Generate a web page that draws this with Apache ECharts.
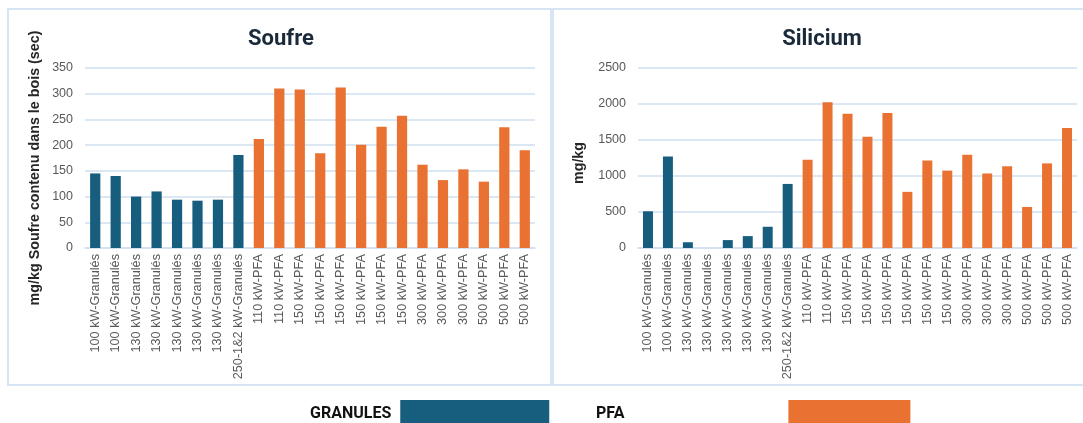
<!DOCTYPE html>
<html>
<head>
<meta charset="utf-8">
<script src="https://cdn.jsdelivr.net/npm/echarts@6/dist/echarts.min.js"></script>
<style>
  html, body { margin: 0; padding: 0; background: #fff; }
  #chart { width: 1083px; height: 423px; }
</style>
</head>
<body>
<div id="chart"></div>
<script>
// categories (same for both charts)
var categories = [
  '100 kW-Granulés', '100 kW-Granulés', '130 kW-Granulés', '130 kW-Granulés',
  '130 kW-Granulés', '130 kW-Granulés', '130 kW-Granulés', '250-1&2 kW-Granulés',
  '110 kW-PFA', '110 kW-PFA', '150 kW-PFA', '150 kW-PFA', '150 kW-PFA',
  '150 kW-PFA', '150 kW-PFA', '150 kW-PFA', '300 kW-PFA', '300 kW-PFA',
  '300 kW-PFA', '500 kW-PFA', '500 kW-PFA', '500 kW-PFA'
];
var nGranules = 8;

// Soufre (mg/kg)
var soufreValues = [145, 140, 100, 110, 94, 92, 94, 181,
  212, 310, 308, 184, 312, 201, 236, 257, 162, 132, 153, 129, 235, 190];

// Silicium (mg/kg)
var siliciumValues = [510, 1270, 80, 0, 110, 165, 295, 890,
  1225, 2025, 1865, 1545, 1875, 780, 1215, 1075, 1295, 1035, 1135, 570, 1175, 1665];

var blue = '#175e7e';
var orange = '#e97132';
var grey = '#595959';

function split(values, granules) {
  return values.map(function (v, i) {
    return (i < nGranules) === granules ? v : '-';
  });
}

function barSeries(name, idx, data, color) {
  return {
    name: name,
    type: 'bar',
    xAxisIndex: idx,
    yAxisIndex: idx,
    stack: 'c' + idx,
    barWidth: '50%',
    itemStyle: { color: color },
    data: data
  };
}

function xAxis(idx) {
  return {
    type: 'category',
    gridIndex: idx,
    data: categories,
    axisTick: { show: false },
    axisLine: { lineStyle: { color: '#d0dff0', width: 1.5 } },
    axisLabel: {
      rotate: 90, interval: 0, color: grey, fontSize: 12.7,
      fontFamily: 'Liberation Sans', margin: 6
    }
  };
}

function yAxis(idx, max, interval, name, gap, pad) {
  return {
    type: 'value',
    gridIndex: idx,
    min: 0, max: max, interval: interval,
    name: name,
    nameLocation: 'middle',
    nameGap: gap,
    nameTextStyle: {
      fontSize: 14.3, fontWeight: 'bold', color: '#262626',
      fontFamily: 'Liberation Sans', padding: [0, pad, 0, 0]
    },
    axisLabel: {
      color: grey, fontSize: 12.5, fontFamily: 'Liberation Sans', margin: 12,
      formatter: function (v) { return String(v); }
    },
    splitLine: { lineStyle: { color: '#d0dff0', width: 1.5 } }
  };
}

var chart = echarts.init(document.getElementById('chart'));
chart.setOption({
  animation: false,
  graphic: [
    { type: 'rect', shape: { x: 8, y: 9, width: 543, height: 376 },
      style: { fill: 'none', stroke: '#d6e4f4', lineWidth: 2 }, silent: true },
    { type: 'rect', shape: { x: 553, y: 9, width: 535, height: 376 },
      style: { fill: 'none', stroke: '#d6e4f4', lineWidth: 2 }, silent: true }
  ],
  title: [
    { text: 'Soufre', left: 276, top: 23, textAlign: 'center',
      textStyle: { fontSize: 22, fontWeight: 'bold', color: '#1b2a3a', fontFamily: 'Roboto' } },
    { text: 'Silicium', left: 817, top: 23, textAlign: 'center',
      textStyle: { fontSize: 22, fontWeight: 'bold', color: '#1b2a3a', fontFamily: 'Roboto' } }
  ],
  legend: [
    { data: ['GRANULES'], left: 305, top: 395, align: 'right', icon: 'rect',
      itemWidth: 149, itemHeight: 28, selectedMode: false,
      textStyle: { fontSize: 16, fontWeight: 'bold', color: '#111', fontFamily: 'Roboto', padding: [0, 4, 0, 0] } },
    { data: ['PFA'], left: 591, top: 395, align: 'right', icon: 'rect',
      itemWidth: 122, itemHeight: 28, selectedMode: false, itemGap: 0,
      textStyle: { fontSize: 16, fontWeight: 'bold', color: '#111', fontFamily: 'Roboto', padding: [0, 159, 0, 0] } }
  ],
  grid: [
    { left: 85, right: 548, top: 68, bottom: 175 },
    { left: 638, right: 6, top: 68, bottom: 175 }
  ],
  xAxis: [xAxis(0), xAxis(1)],
  yAxis: [
    yAxis(0, 350, 50, 'mg/kg Soufre contenu dans le bois (sec)', 43, 20),
    yAxis(1, 2500, 500, 'mg/kg', 52, 10)
  ],
  series: [
    barSeries('GRANULES', 0, split(soufreValues, true), blue),
    barSeries('PFA', 0, split(soufreValues, false), orange),
    barSeries('GRANULES', 1, split(siliciumValues, true), blue),
    barSeries('PFA', 1, split(siliciumValues, false), orange)
  ]
});
</script>
</body>
</html>
